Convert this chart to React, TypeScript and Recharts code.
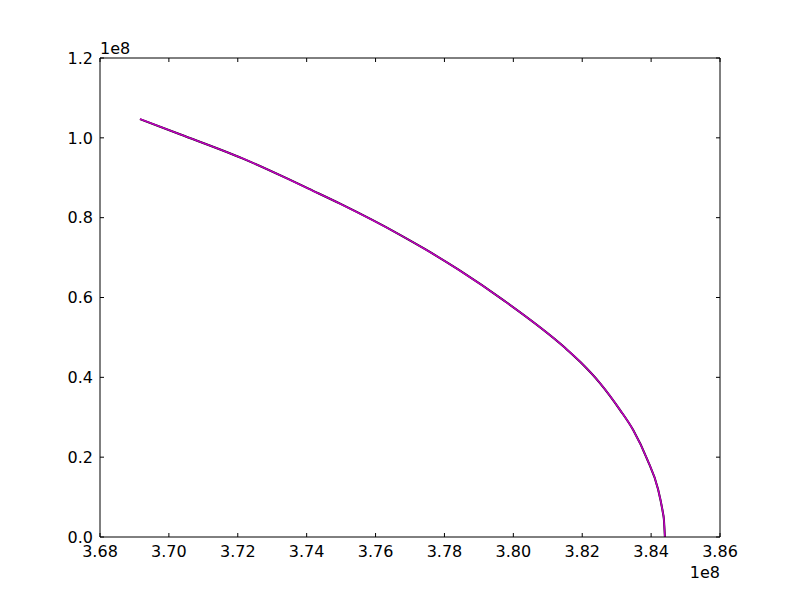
import { LineChart, Line, XAxis, YAxis } from 'recharts';

// curve (metres)
const xs = [
  369160000, 370320000, 372150000, 373460000, 374070000, 374970000,
  376710000, 377440000, 378420000, 379700000, 381500000, 381940000,
  382520000, 383100000, 383480000, 383880000, 384200000, 384340000,
  384370000, 384400000,
];
const ys = [
  104700000, 100900000, 94800000, 89700000, 87200000, 83500000,
  75700000, 72100000, 66900000, 59400000, 47400000, 43900000,
  38500000, 31800000, 26800000, 19600000, 12000000, 6200000,
  4500000, 0,
];

const xTicks = [368000000, 370000000, 372000000, 374000000, 376000000, 378000000, 380000000, 382000000, 384000000, 386000000];
const yTicks = [0, 20000000, 40000000, 60000000, 80000000, 100000000, 120000000];

const data = xs.map((x, i) => ({ x, y: ys[i] }));

const FONT = 'DejaVu Sans';

// matplotlib classic: ticks point into the axes
function BottomTick(props: any) {
  const { x, y, payload } = props;
  return (
    <g>
      <line x1={x} y1={y} x2={x} y2={y - 4} stroke="#000" />
      <text x={x} y={y + 9} dy="0.71em" textAnchor="middle" fontFamily={FONT} fontSize={16} fill="#000">
        {(payload.value / 1e8).toFixed(2)}
      </text>
    </g>
  );
}
function TopTick(props: any) {
  const { x, y } = props;
  return <line x1={x} y1={y} x2={x} y2={y + 4} stroke="#000" />;
}
function LeftTick(props: any) {
  const { x, y, payload } = props;
  return (
    <g>
      <line x1={x} y1={y} x2={x + 4} y2={y} stroke="#000" />
      <text x={x - 7} y={y} dy="0.355em" textAnchor="end" fontFamily={FONT} fontSize={16} fill="#000">
        {(payload.value / 1e8).toFixed(1)}
      </text>
    </g>
  );
}
function RightTick(props: any) {
  const { x, y } = props;
  return <line x1={x} y1={y} x2={x - 4} y2={y} stroke="#000" />;
}

export default function App() {
  return (
    <div style={{ position: 'absolute', left: 0, top: 0, width: 800, height: 597, background: '#fff', fontFamily: FONT }}>
      <LineChart width={800} height={597} data={data} margin={{ top: 57, right: 79, bottom: 0, left: 0 }}>
        <XAxis
          xAxisId="b"
          dataKey="x"
          type="number"
          domain={[368000000, 386000000]}
          ticks={xTicks}
          interval={0}
          height={60}
          tickSize={0}
          tickMargin={0}
          tickLine={false}
          tick={<BottomTick />}
          axisLine={{ stroke: '#000' }}
          allowDataOverflow
        />
        <XAxis
          xAxisId="t"
          orientation="top"
          dataKey="x"
          type="number"
          domain={[368000000, 386000000]}
          ticks={xTicks}
          interval={0}
          height={1}
          tickSize={0}
          tickMargin={0}
          tickLine={false}
          tick={<TopTick />}
          axisLine={{ stroke: '#000' }}
          allowDataOverflow
        />
        <YAxis
          yAxisId="l"
          type="number"
          domain={[0, 120000000]}
          ticks={yTicks}
          interval={0}
          width={100}
          tickSize={0}
          tickMargin={0}
          tickLine={false}
          tick={<LeftTick />}
          axisLine={{ stroke: '#000' }}
          allowDataOverflow
        />
        <YAxis
          yAxisId="r"
          orientation="right"
          type="number"
          domain={[0, 120000000]}
          ticks={yTicks}
          interval={0}
          width={1}
          tickSize={0}
          tickMargin={0}
          tickLine={false}
          tick={<RightTick />}
          axisLine={{ stroke: '#000' }}
          allowDataOverflow
        />
        {/* hidden series so the top and right axes get drawn */}
        <Line xAxisId="t" yAxisId="r" dataKey="y" stroke="none" dot={false} isAnimationActive={false} />
        <Line xAxisId="b" yAxisId="l" dataKey="y" type="monotone" stroke="#000" strokeWidth={2} dot={false} isAnimationActive={false} />
        <Line xAxisId="b" yAxisId="l" dataKey="y" type="monotone" stroke="#bf00bf" strokeWidth={1.6} dot={false} isAnimationActive={false} />
      </LineChart>
      <div style={{ position: 'absolute', left: 100, top: 39, fontSize: 16, color: '#000' }}>1e8</div>
      <div style={{ position: 'absolute', right: 80, top: 563, fontSize: 16, color: '#000' }}>1e8</div>
    </div>
  );
}
